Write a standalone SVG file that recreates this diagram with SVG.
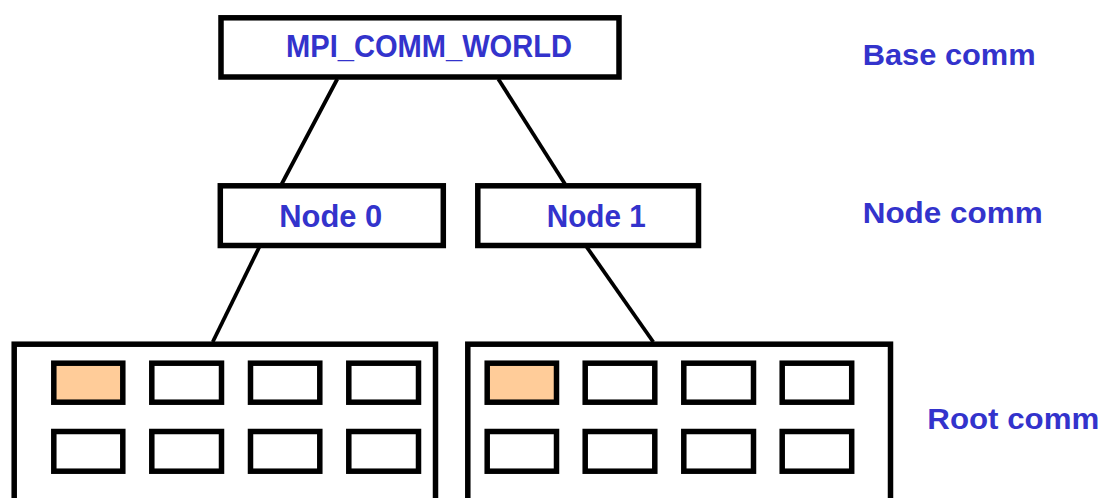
<svg xmlns="http://www.w3.org/2000/svg" width="1102" height="498" viewBox="0 0 1102 498">
<style>
.box{fill:#fff;stroke:#000;stroke-width:5.5}
.cell{fill:#fff;stroke:#000;stroke-width:5.5}
.root{fill:#FFCC99}
.edge{stroke:#000;stroke-width:3.8;fill:none}
.lbl{font-family:"Liberation Sans",Arial,sans-serif;font-weight:bold;fill:#3333CC}
</style>
<rect width="1102" height="498" fill="#fff"/>
<g id="connectors">
<line class="edge" x1="337.3" y1="79" x2="281.7" y2="184"/>
<line class="edge" x1="498.3" y1="79" x2="565" y2="184"/>
<line class="edge" x1="259.3" y1="247" x2="212.7" y2="342"/>
<line class="edge" x1="586.7" y1="247" x2="653.3" y2="342"/>
</g>
<g id="world">
<rect class="box" x="221" y="17.8" width="398" height="59.2"/>
<text class="lbl" x="286" y="56.7" font-size="32" textLength="286" lengthAdjust="spacingAndGlyphs">MPI_COMM_WORLD</text>
</g>
<g id="node0">
<rect class="box" x="220.3" y="185.8" width="223" height="59.7"/>
<text class="lbl" x="279.3" y="226.7" font-size="32" textLength="103" lengthAdjust="spacingAndGlyphs">Node 0</text>
</g>
<g id="node1">
<rect class="box" x="477.8" y="185.8" width="220.7" height="59.7"/>
<text class="lbl" x="546.7" y="226.7" font-size="32" textLength="99" lengthAdjust="spacingAndGlyphs">Node 1</text>
</g>
<g id="group0">
<rect class="box" x="14.2" y="344.2" width="421.3" height="170"/>
<rect class="cell root" x="53.8" y="363.2" width="69" height="39"/>
<rect class="cell" x="151.8" y="363.2" width="69.7" height="39"/>
<rect class="cell" x="250.5" y="363.2" width="69.3" height="39"/>
<rect class="cell" x="348.8" y="363.2" width="69.7" height="39"/>
<rect class="cell" x="53.8" y="431.5" width="69" height="39.7"/>
<rect class="cell" x="151.8" y="431.5" width="69.7" height="39.7"/>
<rect class="cell" x="250.5" y="431.5" width="69.3" height="39.7"/>
<rect class="cell" x="348.8" y="431.5" width="69.7" height="39.7"/>
</g>
<g id="group1">
<rect class="box" x="467.8" y="344.2" width="422.7" height="170"/>
<rect class="cell root" x="487.2" y="363.2" width="69.3" height="39"/>
<rect class="cell" x="585.2" y="363.2" width="69.6" height="39"/>
<rect class="cell" x="683.8" y="363.2" width="69.7" height="39"/>
<rect class="cell" x="782.2" y="363.2" width="69.5" height="39"/>
<rect class="cell" x="487.2" y="431.5" width="69.3" height="39.7"/>
<rect class="cell" x="585.2" y="431.5" width="69.6" height="39.7"/>
<rect class="cell" x="683.8" y="431.5" width="69.7" height="39.7"/>
<rect class="cell" x="782.2" y="431.5" width="69.5" height="39.7"/>
</g>
<g id="labels">
<text class="lbl" x="862.7" y="65" font-size="29" textLength="173" lengthAdjust="spacingAndGlyphs">Base comm</text>
<text class="lbl" x="862.7" y="223.3" font-size="30" textLength="180" lengthAdjust="spacingAndGlyphs">Node comm</text>
<text class="lbl" x="927.3" y="429.3" font-size="29" textLength="172" lengthAdjust="spacingAndGlyphs">Root comm</text>
</g>
</svg>
